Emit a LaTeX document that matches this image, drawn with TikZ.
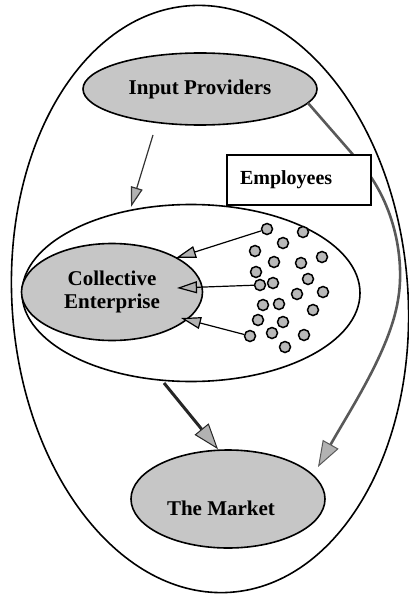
\documentclass[tikz,border=0pt]{standalone}
\usepackage{fontspec}
\setmainfont{Liberation Serif}
\usetikzlibrary{shapes.geometric,arrows.meta,calc}
\begin{document}
\begin{tikzpicture}[x=1pt,y=-1pt,
    blob/.style={ellipse,draw,line width=1.6pt,inner sep=0pt,align=center,font=\fontsize{21}{25}\selectfont\bfseries},
    shaded/.style={blob,fill=gray!45},
    dot/.style={circle,draw,line width=1.5pt,fill=gray!55,minimum size=11pt,inner sep=0pt},
    headarrow/.style={-{Stealth[length=20pt,width=12pt,inset=0pt,fill=gray!60]}},
    bigarrow/.style={-{Stealth[length=26pt,width=18pt,inset=0pt,fill=gray!60,line width=1pt]}}]
    \useasboundingbox (0,0) rectangle (408,599);
        \node[blob,rotate=4,minimum width=396pt,minimum height=588pt](world) at (210,299){};
        \node[shaded,minimum width=234pt,minimum height=72pt](ip) at (200,89){Input Providers};
        \node[blob,minimum width=338pt,minimum height=177pt](firm) at (191,293){};
        \node[shaded,minimum width=181pt,minimum height=97pt](ce) at (112,292){Collective\\[-2pt]Enterprise};
        \node[shaded,minimum width=194pt,minimum height=98pt,label={[xshift=-7pt,yshift=-9pt,font=\fontsize{21}{25}\selectfont\bfseries]center:The Market}](market) at (228,499){};
        % arrows
        \draw[line width=1.2pt,black!80,headarrow]($(ip.center)+(-47,46)$)--($(firm.center)+(-60,-86)$);
        \draw[line width=3pt,black!85,bigarrow]($(firm.center)+(-27,90)$)--($(market.north)+(-10,0)$);
        \draw[line width=2.6pt,black!65,bigarrow]($(ip.center)+(108,14)$)--(362,165)
            .. controls (395,205) and (405,260) .. (398,300)
            .. controls (390,350) and (350,410) .. ($(market.center)+(90,-32)$);
        \node[draw,line width=1.6pt,fill=white,minimum width=144pt,minimum height=50pt,text width=118pt,inner sep=0pt,align=left,font=\fontsize{20}{24}\selectfont\bfseries](emp) at (299,180){Employees};
        % employees as dots
        \foreach \x/\y [count=\i] in {267/229,303/232,283/243,255/251,274/262,301/263,322/257,256/272,260/285,273/283,308/279,297/294,323/292,263/305,279/304,313/310,258/320,283/322,250/336,272/333,304/335,285/347}
            \node[dot](d\i) at (\x,\y){};
        \draw[line width=1.2pt,headarrow](d1)--($(ce.center)+(64,-34)$);
        \draw[line width=1.2pt,headarrow](d9)--($(ce.center)+(65,-4)$);
        \draw[line width=1.2pt,headarrow](d19)--($(ce.center)+(69,26)$);
    \end{tikzpicture}
\end{document}
